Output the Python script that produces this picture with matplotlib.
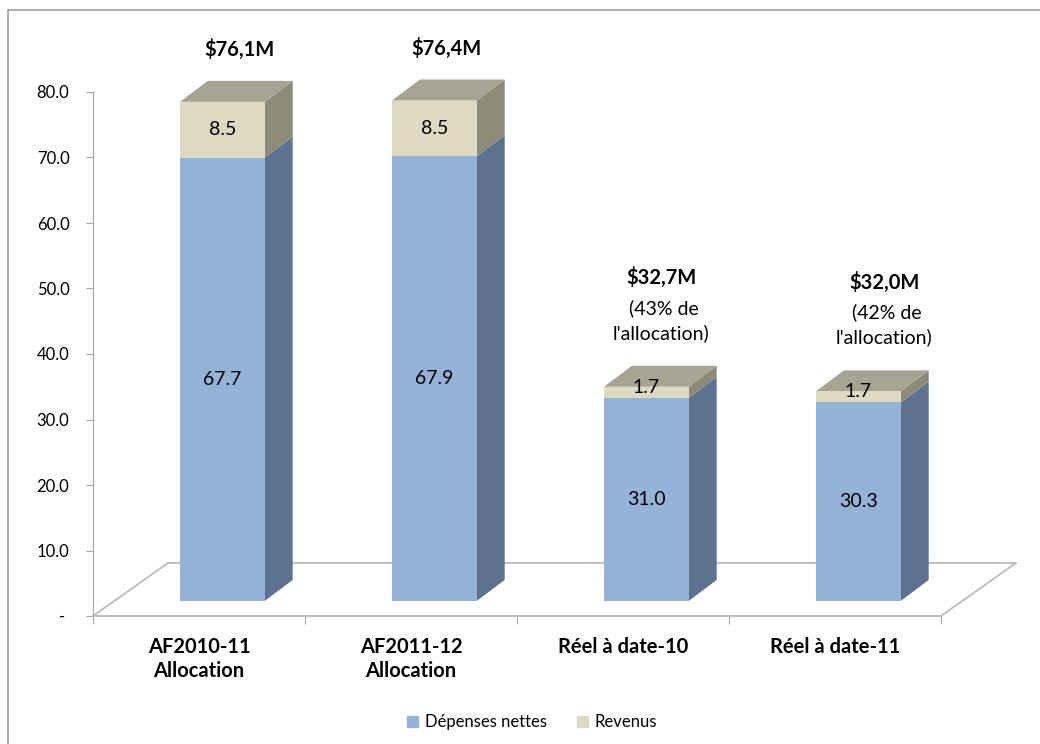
import numpy as np
import matplotlib.pyplot as plt
from matplotlib.patches import Polygon, Patch, Rectangle

plt.rcParams['font.family'] = ['Lato', 'DejaVu Sans']

categories = ['AF2010-11\nAllocation', 'AF2011-12\nAllocation', 'Réel à date-10', 'Réel à date-11']
depenses = [67.7, 67.9, 31.0, 30.3]
revenus = [8.5, 8.5, 1.7, 1.7]
totaux = ['$76,1M', '$76,4M', '$32,7M', '$32,0M']
pct_notes = ['', '', ' (43% de', ' (42% de']
yticks = [0, 10, 20, 30, 40, 50, 60, 70, 80]

# colours (Excel 3D look)
blue_front, blue_side = '#95B3D7', '#5F7190'
beige_front, beige_top, beige_side = '#DDD9C3', '#A6A593', '#8C8B78'
grid_grey = '#BFBFBF'

# pseudo-3D geometry in data units
base = 2.3        # bar base lift (bars stand in the middle of the floor)
shift = 0.11      # horizontal shift of bar front plane
width = 0.40
ddx, ddy = 0.132, 3.2      # bar depth
fdx, fdy = 0.354, 8.1      # floor depth
label_dx_px = [17, 12, 15, 26]

fig = plt.figure(figsize=(10.4, 7.44), dpi=100)
ax = fig.add_axes([93/1040, 1-616/744, 848/1040, 524/744])
ax.set_xlim(0, 4)
ax.set_ylim(0, 80)

# outer chart border
fig.patches.append(Rectangle((8/1040, -0.1), 1.2, 1-10/744+0.1, transform=fig.transFigure,
                             fill=False, ec='#A0A0A0', lw=1.2))

# floor
ax.plot([0, fdx, 4+fdx, 4], [0, fdy, fdy, 0], color=grid_grey, lw=1.4, clip_on=False, zorder=1)

x = np.arange(len(categories)) + 0.5 + shift
dep = np.array(depenses)
rev = np.array(revenus)
tot = dep + rev

ax.bar(x, dep, width, bottom=base, color=blue_front, zorder=3, clip_on=False)
ax.bar(x, rev, width, bottom=base + dep, color=beige_front, zorder=3, clip_on=False)

for xi, d, t in zip(x, dep, tot):
    r = xi + width/2
    l = xi - width/2
    # side faces
    ax.add_patch(Polygon([(r, base), (r+ddx, base+ddy), (r+ddx, base+d+ddy), (r, base+d)],
                         closed=True, fc=blue_side, ec='none', zorder=2, clip_on=False))
    ax.add_patch(Polygon([(r, base+d), (r+ddx, base+d+ddy), (r+ddx, base+t+ddy), (r, base+t)],
                         closed=True, fc=beige_side, ec='none', zorder=2, clip_on=False))
    # top face
    ax.add_patch(Polygon([(l, base+t), (l+ddx, base+t+ddy), (r+ddx, base+t+ddy), (r, base+t)],
                         closed=True, fc=beige_top, ec='none', zorder=2, clip_on=False))

# segment labels
for xi, d, rv in zip(x, dep, rev):
    ax.text(xi, base + d/2, f'{d:.1f}', ha='center', va='center', fontsize=14, zorder=5)
    ax.text(xi, base + d + rv/2 + (0.8 if rv < 3 else 0), f'{rv:.1f}', ha='center', va='center',
            fontsize=14, zorder=5, clip_on=False)

# total labels above bars (offsets in pixels -> points)
pt = 0.72
for xi, t, lab, note, ox in zip(x, tot, totaux, pct_notes, label_dx_px):
    anchor = (xi, base + t + ddy)
    if note:
        ax.annotate("l'allocation)", anchor, xytext=(ox * pt, 33 * pt), textcoords='offset points',
                    ha='center', va='center', fontsize=14, annotation_clip=False)
        ax.annotate(note, anchor, xytext=(ox * pt, 58 * pt), textcoords='offset points',
                    ha='center', va='center', fontsize=14, annotation_clip=False)
        ax.annotate(lab, anchor, xytext=(ox * pt, 88 * pt), textcoords='offset points',
                    ha='center', va='center', fontsize=14.5, fontweight='bold',
                    annotation_clip=False)
    else:
        ax.annotate(lab, anchor, xytext=(ox * pt, 31 * pt), textcoords='offset points',
                    ha='center', va='center', fontsize=14.5, fontweight='bold',
                    annotation_clip=False)

# axes styling
for s in ['top', 'right']:
    ax.spines[s].set_visible(False)
ax.spines['left'].set_color('#A6A6A6')
ax.spines['bottom'].set_color(grid_grey)
ax.spines['bottom'].set_linewidth(1.4)
ax.set_yticks(yticks)
ax.set_yticklabels(['- ' if v == 0 else f'{v:.1f}' for v in yticks])
ax.tick_params(axis='y', length=5, color='#A6A6A6', labelsize=12, pad=12)
ax.set_xticks(range(5))
ax.set_xticklabels([])
ax.set_xticks(np.arange(4) + 0.5, minor=True)
ax.set_xticklabels(categories, minor=True, fontsize=14.5, fontweight='bold', linespacing=1.25)
ax.tick_params(axis='x', which='major', length=6, color='#A6A6A6')
ax.tick_params(axis='x', which='minor', length=0, pad=15)

handles = [Patch(color=blue_front, label='Dépenses nettes'), Patch(color=beige_front, label='Revenus')]
fig.legend(handles=handles, loc='center', bbox_to_anchor=(532/1040, 1-722/744), ncol=2, frameon=False,
           fontsize=12, handlelength=0.65, handleheight=0.65, handletextpad=0.4, columnspacing=1.8)

fig.savefig('out.png', dpi=100)
